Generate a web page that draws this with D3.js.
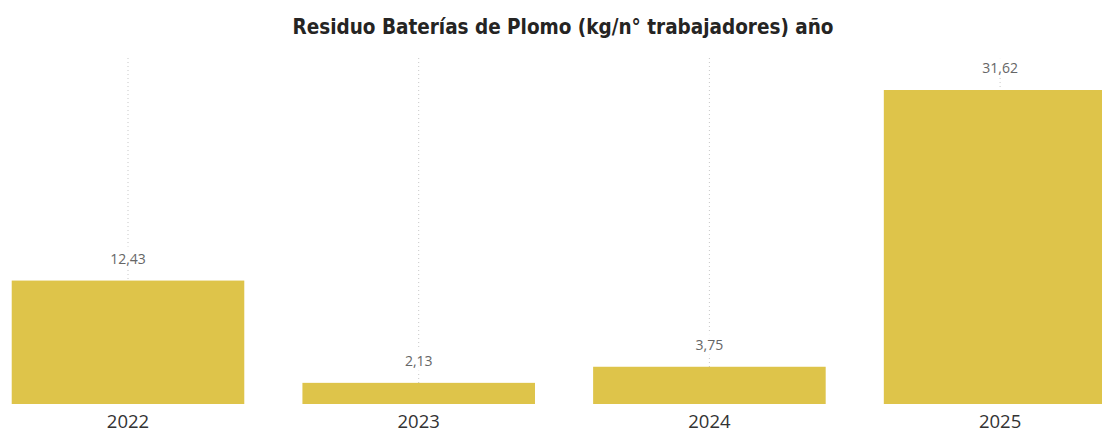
<!DOCTYPE html>
<html>
<head>
<meta charset="UTF-8">
<title>Residuo Baterías de Plomo</title>
<script src="https://d3js.org/d3.v7.min.js"></script>
<style>
    body { margin: 0; padding: 0; background: #fff; }
    .title { font-family: "DejaVu Sans Condensed", "DejaVu Sans", sans-serif; font-weight: bold; font-size: 20.5px; fill: #252423; }
    .val { font-family: "Open Sans", sans-serif; font-size: 14px; fill: #666; }
    .tick text { font-family: "Open Sans", sans-serif; font-size: 18.5px; fill: #333; }
</style>
</head>
<body>
<svg id="chart" width="1102" height="434"></svg>
<script>
const years = ["2022", "2023", "2024", "2025"];
const values = [12.43, 2.13, 3.75, 31.62];
const titleText = "Residuo Baterías de Plomo (kg/n° trabajadores) año";

const svg = d3.select("#chart");
const step = 290.7;
const plotBottom = 404, plotTop = 90;

const x = d3.scaleBand()
    .domain(years)
    .range([128 - step / 2, 128 + step * 3.5])
    .paddingInner(0.2)
    .paddingOuter(0.1);

const y = d3.scaleLinear()
    .domain([0, d3.max(values)])
    .range([plotBottom, plotTop]);

const fmt = v => d3.format(".2f")(v).replace(".", ",");

// dotted gridlines
svg.append("g").selectAll("line")
    .data(years)
    .enter().append("line")
    .attr("x1", d => x(d) + x.bandwidth() / 2)
    .attr("x2", d => x(d) + x.bandwidth() / 2)
    .attr("y1", 58)
    .attr("y2", plotBottom)
    .attr("stroke", "#c8c8c8")
    .attr("stroke-width", 1)
    .attr("stroke-dasharray", "1,3");

svg.append("g").selectAll("rect")
    .data(years)
    .enter().append("rect")
    .attr("x", d => x(d))
    .attr("y", (d, i) => y(values[i]))
    .attr("width", x.bandwidth())
    .attr("height", (d, i) => plotBottom - y(values[i]))
    .attr("fill", "#dec44a");

// value labels with faint background
const lab = svg.append("g").selectAll("g")
    .data(years)
    .enter().append("g")
    .attr("transform", (d, i) => `translate(${x(d) + x.bandwidth() / 2},${y(values[i]) - 17})`);
lab.append("rect")
    .attr("x", -24).attr("y", -17).attr("width", 48).attr("height", 22)
    .attr("fill", "#fff").attr("opacity", 0.85);
lab.append("text")
    .attr("class", "val")
    .attr("text-anchor", "middle")
    .text((d, i) => fmt(values[i]));

const ax = svg.append("g")
    .attr("transform", `translate(0,${plotBottom})`)
    .call(d3.axisBottom(x).tickSize(0).tickPadding(11));
ax.select(".domain").remove();

svg.append("text")
    .attr("class", "title")
    .attr("x", 563)
    .attr("y", 34)
    .attr("text-anchor", "middle")
    .attr("textLength", 541)
    .attr("lengthAdjust", "spacingAndGlyphs")
    .text(titleText);
</script>
</body>
</html>
